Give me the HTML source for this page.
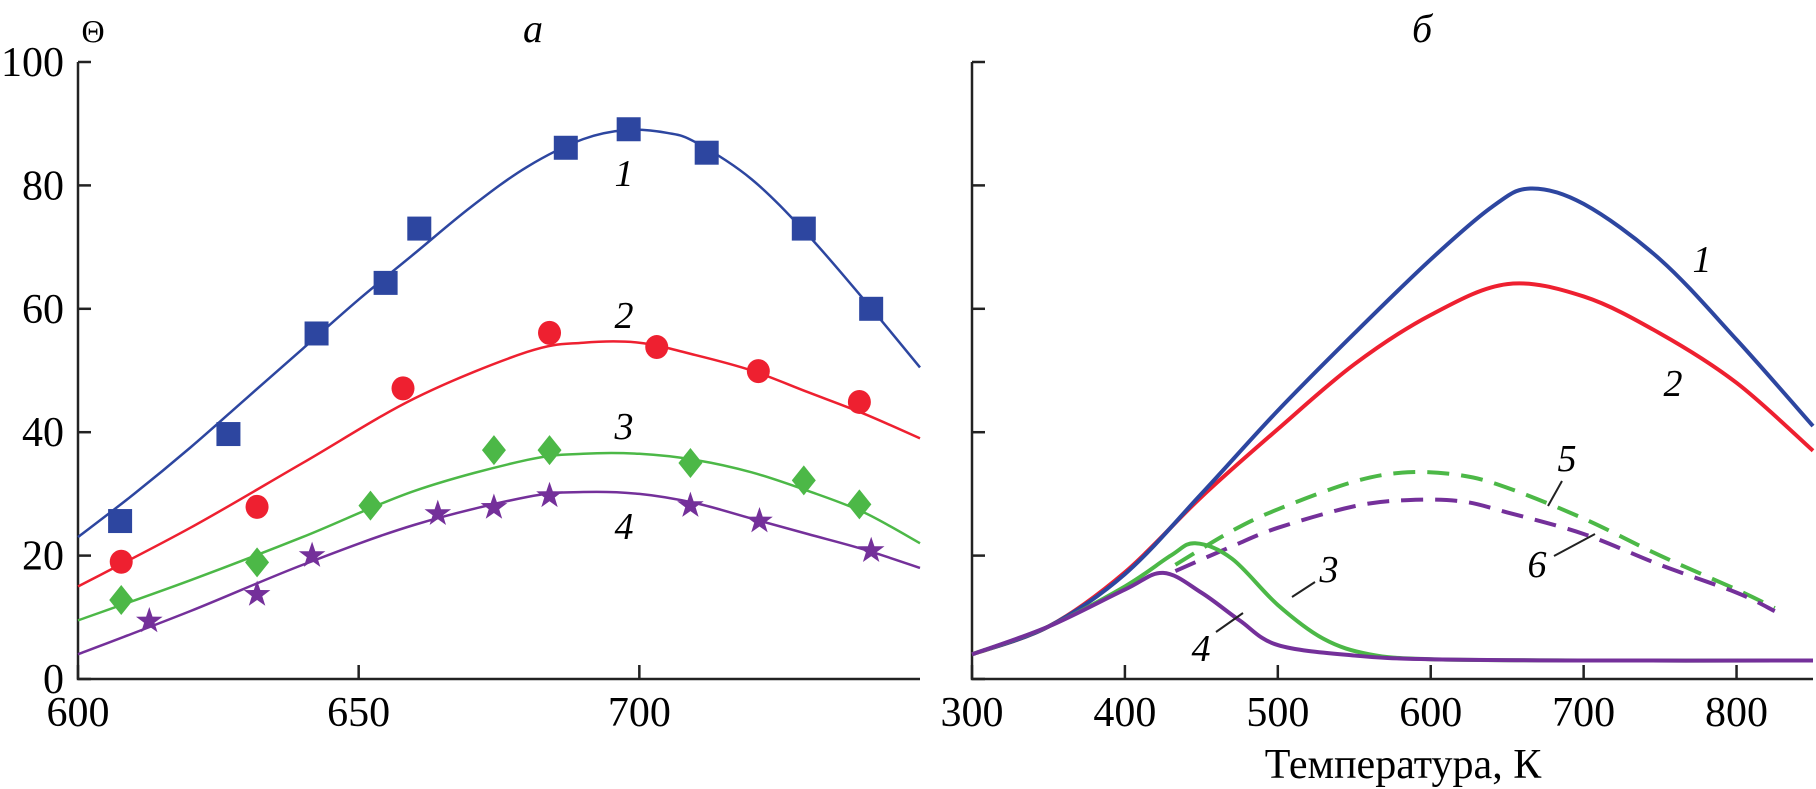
<!DOCTYPE html>
<html><head><meta charset="utf-8"><style>
html,body{margin:0;padding:0;background:#fff;}
svg{display:block;font-family:"Liberation Serif",serif;}
svg text{font-family:"Liberation Serif",serif;}
</style></head><body>
<svg id="chart" width="1816" height="789" viewBox="0 0 1816 789"></svg>
<script>
// ---- Panel a data ----
const aCurveX = [600,610,620,630,640,650,660,670,680,690,698,705,710,720,730,740,750];
const aCurve1 = [23,30,37.5,45.5,53.5,61.5,69,76.5,83,87.5,89,88.5,87,81,72,61.5,50.5];
const aCurveX2 = [600,620,640,660,680,690,700,710,720,730,740,750];
const aCurve2 = [15,24.5,35,45.5,53,54.5,54.5,52.5,50,46.5,43,39];
const aCurve3 = [9.5,16,23,30.5,35.5,36.5,36.5,35.5,33.5,30.5,27,22];
const aCurve4 = [4,11,18.5,25,29.5,30.3,30,28.5,26,23.5,21,18];
const sqX = [607.5,626.8,642.5,654.8,660.8,686.9,698.1,712,729.3,741.3];
const sqY = [25.6,39.7,56,64.2,73,86.1,89.1,85.3,73,60];
const ciX = [607.7,631.9,657.9,684,703.1,721.2,739.2];
const ciY = [19,27.9,47.1,56.1,53.8,49.9,44.9];
const diX = [607.7,631.9,652.1,674.1,684,709.1,729.3,739.2];
const diY = [12.8,18.9,28.1,37.1,37.1,35,32.2,28.3];
const stX = [612.7,631.9,641.7,664.1,674.1,684,709.1,721.4,741.3];
const stY = [9.4,13.7,20,26.8,27.8,29.7,28.1,25.6,20.8];
const aXTicks = [600,650,700];
const yTicks = [0,20,40,60,80,100];
// ---- Panel b data ----
const bX12 = [300,350,400,450,500,550,600,640,665,700,750,800,850];
const b1 = [4,8.5,17,30,43.5,56,68,76.5,79.5,77,68,55,41];
const bX2 = [300,350,400,450,500,550,600,650,700,750,800,850];
const b2 = [4,8.5,17.3,29.5,40.5,51,59,64,62,56,48,37];
const bX34 = [300,350,400,430,446,470,500,530,560,600,700,850];
const b3 = [4,8.5,15,20,22,19.5,12,6.5,4,3.2,3,3];
const bX4 = [300,350,400,425,450,475,500,550,600,700,850];
const b4 = [4,8.5,14.5,17.2,14,9.5,5.5,3.8,3.2,3,3];
const bX56 = [433,470,500,550,585,620,650,700,750,800,825];
const b5 = [18.5,24,27.5,32,33.5,33,31,26,20,14.5,11.5];
const b6 = [17.5,21.5,24.5,28,29,28.8,27,23.5,18.5,14,11];
const bXTicks = [300,400,500,600,700,800];

const svg = document.getElementById('chart');
const NS = 'http://www.w3.org/2000/svg';
function mk(tag, attrs, parent){const e=document.createElementNS(NS,tag);for(const k in attrs)e.setAttribute(k,attrs[k]);if(tag==='text')e.setAttribute('font-family','Liberation Serif, serif');(parent||svg).appendChild(e);return e;}

const Y0=679, Y100=62;
const yS = v => Y0 + (Y100-Y0)*v/100;
const xA = v => 78 + (v-600)*(920-78)/150;
const xB = v => 972 + (v-300)*(1813-972)/550;

function smooth(xs, ys, fx){
  const p = xs.map((x,i)=>[fx(x), yS(ys[i])]);
  let d = 'M'+p[0][0]+','+p[0][1];
  for(let i=0;i<p.length-1;i++){
    const p0=p[i-1]||p[i], p1=p[i], p2=p[i+1], p3=p[i+2]||p2;
    const c1=[p1[0]+(p2[0]-p0[0])/6, p1[1]+(p2[1]-p0[1])/6];
    const c2=[p2[0]-(p3[0]-p1[0])/6, p2[1]-(p3[1]-p1[1])/6];
    d+=' C'+c1[0]+','+c1[1]+' '+c2[0]+','+c2[1]+' '+p2[0]+','+p2[1];
  }
  return d;
}
const BLUE='#2d46a0', RED='#ee2030', GREEN='#4cb847', PURP='#74309a';

// axes panel a
let g = mk('g',{});


mk('path',{d:'M78,'+Y100+' V'+Y0+' H920',stroke:'#222','stroke-width':2.5,fill:'none'},g);
yTicks.forEach(t=>{
  mk('line',{x1:78,x2:91,y1:yS(t),y2:yS(t),stroke:'#222','stroke-width':2.5},g);
  const tx=mk('text',{x:64,y:yS(t)+14,'text-anchor':'end','font-size':42},g);
  tx.textContent=t;
  
  
});
aXTicks.forEach(t=>{
  mk('line',{x1:xA(t),x2:xA(t),y1:Y0,y2:Y0-14,stroke:'#222','stroke-width':2.5},g);
  const tx=mk('text',{x:xA(t),y:726,'text-anchor':'middle','font-size':42},g);
  tx.textContent=t;
  
  
});
let t=mk('text',{x:93,y:42,'text-anchor':'middle','font-size':32});t.textContent='Θ';


t=mk('text',{x:533,y:42,'text-anchor':'middle','font-size':40,'font-style':'italic'});t.textContent='а';



// panel a curves
[[aCurveX,aCurve1,BLUE],[aCurveX2,aCurve2,RED],[aCurveX2,aCurve3,GREEN],[aCurveX2,aCurve4,PURP]].forEach((c,i)=>{
  const p=mk('path',{d:smooth(c[0],c[1],xA),stroke:c[2],'stroke-width':2.5,fill:'none'});
  
  
});
sqX.forEach((x,i)=>{const r=mk('rect',{x:xA(x)-12,y:yS(sqY[i])-12,width:24,height:24,fill:BLUE});
  
  });
ciX.forEach((x,i)=>{const r=mk('ellipse',{cx:xA(x),cy:yS(ciY[i]),rx:11.5,ry:12,fill:RED});
  
  });
diX.forEach((x,i)=>{const cx=xA(x),cy=yS(diY[i]);const r=mk('polygon',{points:`${cx},${cy-15} ${cx+12},${cy} ${cx},${cy+15} ${cx-12},${cy}`,fill:GREEN});
  
  });
stX.forEach((x,i)=>{const cx=xA(x),cy=yS(stY[i]);let pts=[];for(let k=0;k<10;k++){const a=-Math.PI/2+k*Math.PI/5;const r=k%2?5.5:14;pts.push((cx+r*Math.cos(a)).toFixed(1)+','+(cy+r*Math.sin(a)).toFixed(1));}
  const s=mk('polygon',{points:pts.join(' '),fill:PURP});
  
  });
[['1',624,186],['2',624,328],['3',624,439],['4',624,539]].forEach(l=>{
  const e=mk('text',{x:l[1],y:l[2],'text-anchor':'middle','font-size':38,'font-style':'italic'});e.textContent=l[0];
  
  
});

// axes panel b
g = mk('g',{});


mk('path',{d:'M972,'+Y100+' V'+Y0+' H1813',stroke:'#222','stroke-width':2.5,fill:'none'},g);
yTicks.forEach(v=>mk('line',{x1:972,x2:985,y1:yS(v),y2:yS(v),stroke:'#222','stroke-width':2.5},g));
bXTicks.forEach(v=>{
  mk('line',{x1:xB(v),x2:xB(v),y1:Y0,y2:Y0-14,stroke:'#222','stroke-width':2.5},g);
  const tx=mk('text',{x:xB(v),y:726,'text-anchor':'middle','font-size':42},g);
  tx.textContent=v;
  
  
});
t=mk('text',{x:1422,y:42,'text-anchor':'middle','font-size':40,'font-style':'italic'});t.textContent='б';


t=mk('text',{x:1403,y:778,'text-anchor':'middle','font-size':42});t.textContent='Температура, К';



[[bX56,b5,GREEN,true],[bX56,b6,PURP,true],[bX2,b2,RED,false],[bX12,b1,BLUE,false],[bX34,b3,GREEN,false],[bX4,b4,PURP,false]].forEach((c,i)=>{
  const p=mk('path',{d:smooth(c[0],c[1],xB),stroke:c[2],'stroke-width':4,fill:'none'});
  if(c[3]) p.setAttribute('stroke-dasharray','22,12');
  
  
});
[['1',1702,272],['2',1673,396],['5',1567,471],['6',1537,577],['3',1329,582],['4',1201,661]].forEach(l=>{
  const e=mk('text',{x:l[1],y:l[2],'text-anchor':'middle','font-size':38,'font-style':'italic'});e.textContent=l[0];
  
  
});
[[1548,506,1562,481],[1554,556,1595,534],[1292,597,1315,582],[1216,632,1243,613]].forEach(l=>{
  const e=mk('line',{x1:l[0],y1:l[1],x2:l[2],y2:l[3],stroke:'#222','stroke-width':2});
  
  
});
</script>
</body></html>
